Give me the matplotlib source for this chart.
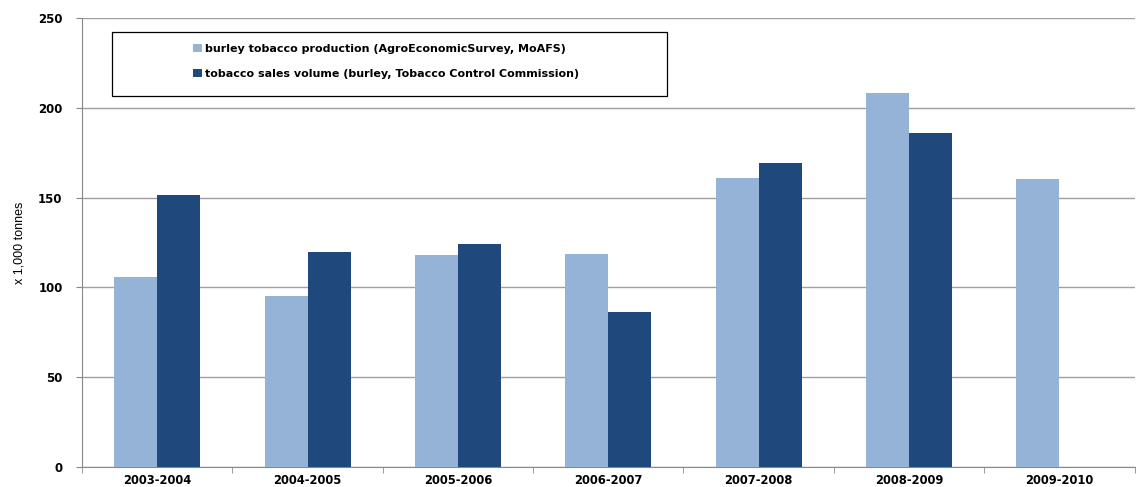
import matplotlib.pyplot as plt
import numpy as np
from matplotlib.patches import Rectangle

seasons = ["2003-2004", "2004-2005", "2005-2006", "2006-2007",
           "2007-2008", "2008-2009", "2009-2010"]
production = [106, 95, 118, 118.5, 161, 208, 160.5]
sales = [151.5, 119.5, 124, 86.5, 169, 186, np.nan]

label_prod = "burley tobacco production (AgroEconomicSurvey, MoAFS)"
label_sales = "tobacco sales volume (burley, Tobacco Control Commission)"

light = "#95b3d7"
dark = "#1f497d"

fig = plt.figure(figsize=(11.36, 4.87), dpi=100)
ax = fig.add_axes([0.0722, 0.0411, 0.9265, 0.922])

x = np.arange(len(seasons))
w = 1 / 3.5
ax.bar(x - w / 2, production, w, color=light, label=label_prod, zorder=3)
ax.bar(x + w / 2, sales, w, color=dark, label=label_sales, zorder=3)

ax.set_xlim(-0.5, len(seasons) - 0.5)
ax.set_ylim(0, 250)
ax.set_yticks(range(0, 251, 50))
ax.yaxis.grid(True, color="#a0a0a0", linewidth=1, zorder=0)

# category labels centred, tick marks on the boundaries
ax.set_xticks(x)
ax.set_xticklabels(seasons, fontsize=8.3, fontweight="bold", family="DejaVu Sans")
ax.tick_params(axis="x", which="major", length=0, pad=5)
ax.set_xticks(np.arange(-0.5, len(seasons)), minor=True)
ax.tick_params(axis="x", which="minor", length=4, color="#888888")
ax.tick_params(axis="y", length=4, color="#888888", pad=10)
for t in ax.get_yticklabels():
    t.set_fontsize(8.5)
    t.set_fontweight("bold")

for side in ["top", "right"]:
    ax.spines[side].set_visible(False)
for side in ["left", "bottom"]:
    ax.spines[side].set_color("#888888")

ax.set_ylabel("x 1,000 tonnes", fontsize=9, family="Liberation Sans", labelpad=9)

# legend: wide framed box with entries in the middle
ax.add_patch(Rectangle((0.0284, 0.826), 0.527, 0.143, transform=ax.transAxes,
                       facecolor="white", edgecolor="black", linewidth=0.9, zorder=4))
ax.legend(loc="center", bbox_to_anchor=(0.289, 0.904), frameon=False,
          prop={"size": 8, "weight": "bold"}, handlelength=0.8, handleheight=0.7,
          handletextpad=0.3, labelspacing=1.35).set_zorder(5)

fig.savefig("out.png", dpi=100)
